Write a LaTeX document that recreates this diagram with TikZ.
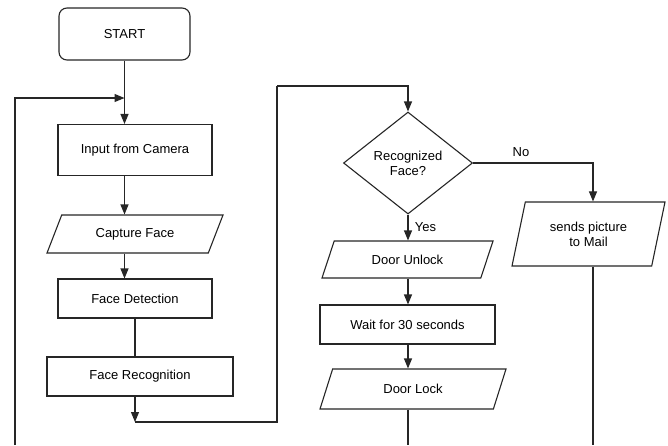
\documentclass[tikz,border=0pt]{standalone}
\usepackage{fontspec}
\setmainfont{Liberation Sans}
\usetikzlibrary{shapes.geometric,arrows.meta}
\tikzset{
  base/.style={draw=black!85, line width=1.1pt, fill=white, inner sep=2pt, align=center, font=\fontsize{13}{15}\selectfont},
  wh/.style 2 args={minimum width=#1pt, minimum height=#2pt},
  startbox/.style={base, rounded corners=8pt},
  procbox/.style={base, rectangle},
  iobox/.style={base, trapezium, trapezium left angle=#1, trapezium right angle={180-#1}, trapezium stretches body=true},
  askbox/.style={base, diamond},
  flow/.style={draw=black!85, line width=1.1pt},
  arr/.style={flow, -{Triangle[length=10pt,width=8pt]}}
}

\begin{document}
\begin{tikzpicture}[x=1pt,y=-1pt]
  \useasboundingbox (0,0) rectangle (668,445);
  \node[startbox,wh={131}{52}] (start) at (124.5,34) {START};
  \node[procbox,wh={154}{51}] (camera) at (135,150) {Input from Camera};
  \node[iobox=47,wh={176}{38}] (capture) at (135,234) {Capture Face};
  \node[procbox,wh={154}{39}] (detect) at (135,298.5) {Face Detection};
  \node[procbox,wh={186}{39}] (recog) at (140,376.5) {Face Recognition};
  \node[askbox,wh={129}{102}] (decide) at (408,163) {Recognized\\Face?};
  \node[iobox=48,wh={171}{37}] (unlock) at (407.5,259.5) {Door Unlock};
  \node[procbox,wh={175}{39}] (wait30) at (407.5,324.5) {Wait for 30 seconds};
  \node[iobox=47,wh={186}{40}] (lock) at (413,389) {Door Lock};
  \node[iobox=65,wh={153}{64}] (mail) at (588.5,234) {sends picture\\to Mail};

  \coordinate (back) at (15,445);
  \coordinate (merge) at (124.5,98);
  \coordinate (join) at (135,422);
  \coordinate (up) at (277,86);
  \coordinate (lockend) at (408,445);
  \coordinate (mailend) at (593,445);

  \draw[arr] (start.south) -- (start.south |- camera.north);
  \draw[arr] (back) |- (merge);
  \draw[arr] (camera.south -| start.south) -- (capture.north -| start.south);
  \draw[arr] (capture.south -| start.south) -- (detect.north -| start.south);
  \draw[flow] (detect.south) -- (detect.south |- recog.north);
  \draw[arr] (recog.south -| detect.south) -- (join);
  \draw[flow] (join) -| (up);
  \draw[arr] (up) -| (decide.north);
  \draw[arr] (decide.south) -- (unlock.north -| decide.south) node[pos=0.5, right=3pt, font=\fontsize{13}{15}\selectfont] {Yes};
  \draw[arr] (decide.east) -| (mail.north -| mailend) node[pos=0.2, above=2pt, font=\fontsize{13}{15}\selectfont] {No};
  \draw[arr] (unlock.south -| decide.south) -- (wait30.north -| decide.south);
  \draw[arr] (wait30.south -| decide.south) -- (lock.north -| decide.south);
  \draw[flow] (lock.south -| lockend) -- (lockend);
  \draw[flow] (mail.south -| mailend) -- (mailend);
\end{tikzpicture}
\end{document}
